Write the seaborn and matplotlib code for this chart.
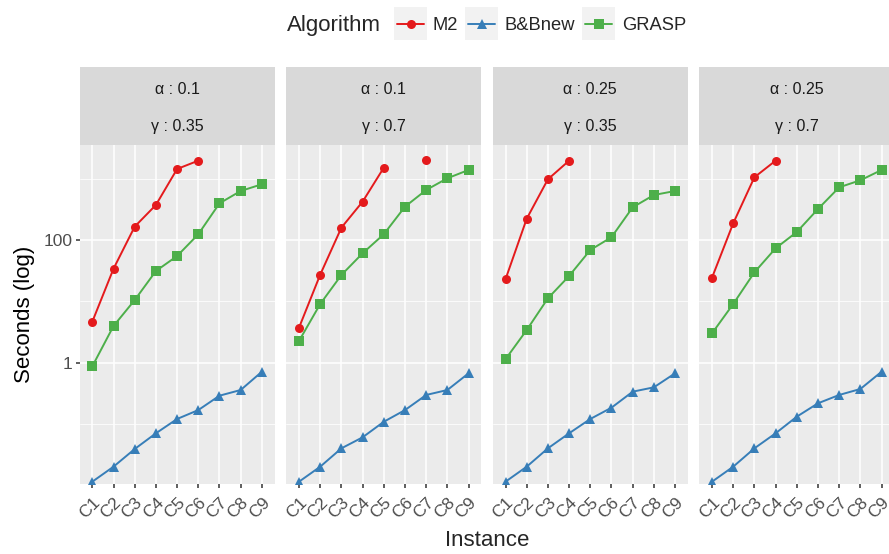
import numpy as np
import pandas as pd
import matplotlib
matplotlib.use("Agg")
import matplotlib.pyplot as plt
from matplotlib.patches import Rectangle
from matplotlib.lines import Line2D
from matplotlib.ticker import FixedLocator, NullFormatter
import seaborn as sns

sns.set_theme(style="white")
plt.rcParams["font.family"] = ["Liberation Sans", "DejaVu Sans"]

# ---- data -------------------------------------------------------------
instances = ["C1", "C2", "C3", "C4", "C5", "C6", "C7", "C8", "C9"]
algorithms = ["M2", "B&Bnew", "GRASP"]
alphas = ["0.1", "0.1", "0.25", "0.25"]
gammas = ["0.35", "0.7", "0.35", "0.7"]

# running time in seconds, one list per facet (None = not solved)
m2_p1 = [4.66, 34, 165, 372, 1436, 1962, None, None, None]
m2_p2 = [3.72, 27.2, 159, 421, 1508, None, 2014, None, None]
m2_p3 = [22.9, 222, 975, 1962, None, None, None, None, None]
m2_p4 = [24.3, 187, 1052, 1962, None, None, None, None, None]

bb_p1 = [0.0115, 0.0202, 0.0392, 0.0707, 0.121, 0.169, 0.29, 0.359, 0.713]
bb_p2 = [0.0115, 0.0202, 0.0402, 0.0608, 0.109, 0.169, 0.298, 0.359, 0.672]
bb_p3 = [0.0115, 0.0202, 0.0402, 0.0707, 0.121, 0.185, 0.337, 0.397, 0.672]
bb_p4 = [0.0115, 0.0202, 0.0402, 0.0707, 0.132, 0.218, 0.298, 0.373, 0.713]

grasp_p1 = [0.873, 3.96, 10.5, 31.2, 54.8, 124, 396, 629, 809]
grasp_p2 = [2.26, 9.05, 26.9, 60.7, 124, 349, 653, 1014, 1384]
grasp_p3 = [1.14, 3.41, 11.2, 25.9, 68.7, 111, 341, 541, 629]
grasp_p4 = [3.01, 9.05, 29.7, 73.2, 135, 320, 722, 940, 1384]

series = {
    "M2": [m2_p1, m2_p2, m2_p3, m2_p4],
    "B&Bnew": [bb_p1, bb_p2, bb_p3, bb_p4],
    "GRASP": [grasp_p1, grasp_p2, grasp_p3, grasp_p4],
}

palette = {"M2": "#E41A1C", "B&Bnew": "#377EB8", "GRASP": "#4DAF4A"}
markers = {"M2": "o", "B&Bnew": "^", "GRASP": "s"}
msizes = {"M2": 6.5, "B&Bnew": 7.5, "GRASP": 6.5}

# long table; contiguous runs get their own unit so gaps stay open
rows = []
for alg in algorithms:
    for p, vals in enumerate(series[alg]):
        seg = 0
        prev_ok = False
        for i, v in enumerate(vals):
            if v is None:
                if prev_ok:
                    seg += 1
                prev_ok = False
                continue
            rows.append({"panel": p, "Algorithm": alg, "Instance": instances[i],
                         "pos": instances.index(instances[i]),
                         "Seconds": v, "segment": f"{alg}-{seg}"})
            prev_ok = True
df = pd.DataFrame(rows)

# ---- layout (pixel geometry of an 889x554 canvas) ---------------------
W, H = 889, 554
fig = plt.figure(figsize=(W / 100, H / 100), dpi=100)
panel_left = [79.6, 286.3, 492.8, 699.3]
panel_w = 195.0
top_px, bot_px = 145.0, 484.0
strip_top = 67.0

bg = "#EBEBEB"
strip_bg = "#D9D9D9"
ylo, yhi = 10 ** -1.977, 10 ** 3.548

for p in range(4):
    ax = fig.add_axes([panel_left[p] / W, 1 - bot_px / H,
                       panel_w / W, (bot_px - top_px) / H])
    ax.set_facecolor(bg)
    for s in ax.spines.values():
        s.set_visible(False)
    sub = df[df["panel"] == p]
    for alg in algorithms:
        d = sub[sub["Algorithm"] == alg]
        sns.lineplot(data=d, x="pos", y="Seconds", units="segment",
                     estimator=None, color=palette[alg], marker=markers[alg],
                     markersize=msizes[alg], markeredgewidth=0,
                     linewidth=1.4, ax=ax, legend=False, sort=True)
    ax.set_yscale("log")
    ax.set_ylim(ylo, yhi)
    ax.set_xlim(-0.6, 8.6)
    ax.yaxis.set_major_locator(FixedLocator([1, 100]))
    ax.yaxis.set_minor_locator(FixedLocator([0.1, 10, 1000]))
    ax.yaxis.set_minor_formatter(NullFormatter())
    ax.set_xticks(range(len(instances)))
    ax.set_xticklabels(instances, rotation=45, ha="right", va="top",
                       rotation_mode="anchor")
    ax.grid(which="major", color="white", linewidth=1.1)
    ax.grid(which="minor", axis="y", color="white", linewidth=0.55)
    ax.set_axisbelow(True)
    ax.tick_params(axis="x", which="major", length=3, width=1.1,
                   color="#333333", labelsize=12.5, labelcolor="#4D4D4D",
                   pad=5, bottom=True)
    ax.tick_params(axis="y", which="minor", length=0)
    if p == 0:
        ax.set_yticklabels(["1", "100"])
        ax.tick_params(axis="y", which="major", length=3, width=1.1,
                       color="#333333", labelsize=12.5, labelcolor="#4D4D4D",
                       pad=2, left=True)
        ax.set_ylabel("Seconds (log)", fontsize=16, color="black", labelpad=6)
    else:
        ax.set_yticklabels([])
        ax.tick_params(axis="y", which="major", length=0)
        ax.set_ylabel("")
    ax.set_xlabel("")

    # facet strip
    strip_h = (top_px - strip_top) / (bot_px - top_px)
    ax.add_patch(Rectangle((0, 1), 1, strip_h, transform=ax.transAxes,
                           facecolor=strip_bg, edgecolor="none", clip_on=False))
    ax.text(0.5, 1 + (bot_px - 94) / (bot_px - top_px) - 1,
            f"α : {alphas[p]}", transform=ax.transAxes, ha="center",
            va="baseline", fontsize=11.5, color="#1A1A1A")
    ax.text(0.5, 1 + (bot_px - 131) / (bot_px - top_px) - 1,
            f"γ : {gammas[p]}", transform=ax.transAxes, ha="center",
            va="baseline", fontsize=11.5, color="#1A1A1A")

fig.text((panel_left[0] + panel_left[3] + panel_w) / 2 / W, 1 - 546 / H,
         "Instance", ha="center", va="baseline", fontsize=16)

# ---- legend across the top -------------------------------------------
fig.text(287 / W, 1 - 31 / H, "Algorithm", ha="left", va="baseline",
         fontsize=16)
key_x = [394, 465, 582]
lab_x = [433, 505, 622]
key_w, key_top, key_bot = 33, 7, 40
for alg, kx, lx in zip(algorithms, key_x, lab_x):
    fig.add_artist(Rectangle((kx / W, 1 - key_bot / H), key_w / W,
                             (key_bot - key_top) / H, transform=fig.transFigure,
                             facecolor="#F2F2F2", edgecolor="none"))
    yk = 1 - (key_top + key_bot) / 2 / H
    fig.add_artist(Line2D([(kx + 3) / W, (kx + key_w - 3) / W], [yk, yk],
                          transform=fig.transFigure, color=palette[alg],
                          linewidth=1.4, marker=None))
    fig.add_artist(Line2D([(kx + key_w / 2) / W], [yk],
                          transform=fig.transFigure, color=palette[alg],
                          marker=markers[alg], markersize=msizes[alg],
                          markeredgewidth=0, linestyle="none"))
    fig.text(lx / W, 1 - 30 / H, alg, ha="left", va="baseline", fontsize=13.2)

fig.savefig("out.png", dpi=100, facecolor="white")
